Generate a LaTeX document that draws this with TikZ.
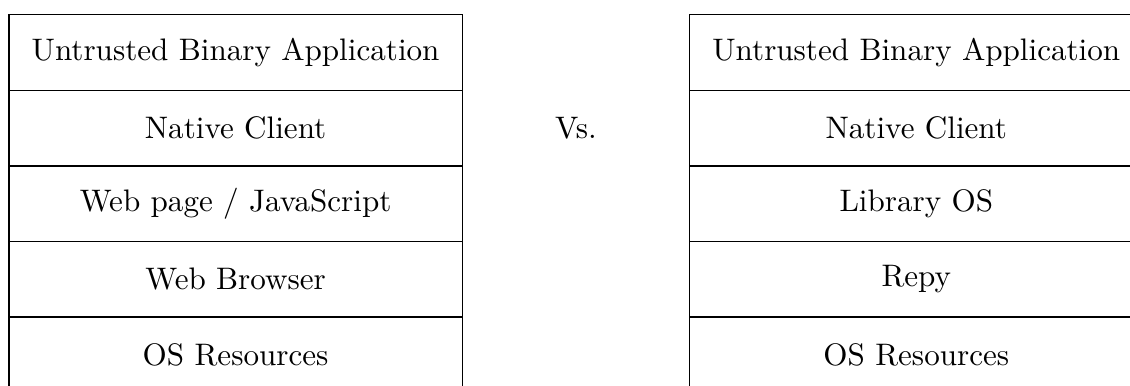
\documentclass[tikz,border=0pt]{standalone}
\usetikzlibrary{positioning}
\begin{document}
\begin{tikzpicture}[x=0.3215pt, y=-0.3215pt, node distance=0pt, layer/.style = {draw, minimum width=145.7pt, minimum height=24.3pt, outer sep=0pt, inner sep=0pt}]
            \useasboundingbox (0,0) rectangle (1130,385);
            \clip (0,0) rectangle (1130,385);
            % Left stack
            \node[layer, anchor=north west] (l1) at (9,14.7) {Untrusted Binary Application};
            \node[layer] (l2) [below=of l1] {Native Client};
            \node[layer] (l3) [below=of l2] {Web page / JavaScript};
            \node[layer] (l4) [below=of l3] {Web Browser};
            \node[layer] (l5) [below=of l4] {OS Resources};
            % Right stack
            \node[layer, anchor=north west] (r1) at (689.7,14.7) {Untrusted Binary Application};
            \node[layer] (r2) [below=of r1] {Native Client};
            \node[layer] (r3) [below=of r2] {Library OS};
            \node[layer] (r4) [below=of r3] {Repy};
            \node[layer] (r5) [below=of r4] {OS Resources};
            % Label
            \node (vs) at (576,127.8) {Vs.};
\end{tikzpicture}
\end{document}
